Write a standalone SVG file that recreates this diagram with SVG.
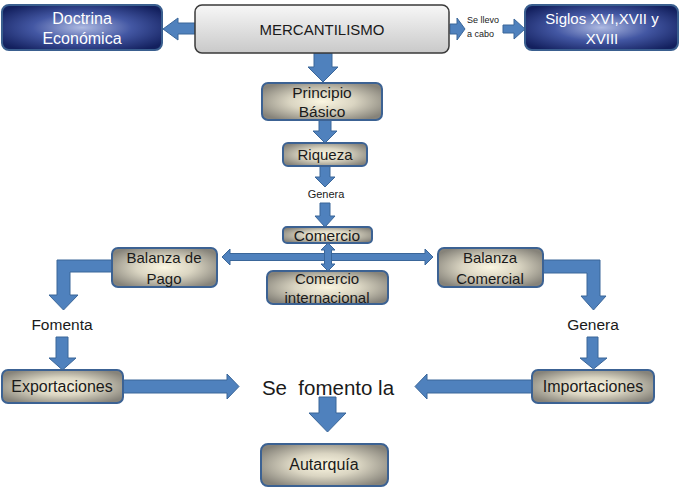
<svg xmlns="http://www.w3.org/2000/svg" width="680" height="488" viewBox="0 0 680 488">
<defs>
<radialGradient id="tan" cx="0.5" cy="0.5" r="0.6">
<stop offset="0" stop-color="#FBF6E1"/>
<stop offset="0.45" stop-color="#DAD5C2"/>
<stop offset="1" stop-color="#86837A"/>
</radialGradient>
<radialGradient id="navy" cx="0.5" cy="0.5" r="0.62">
<stop offset="0" stop-color="#AEBAE2"/>
<stop offset="0.5" stop-color="#4357A3"/>
<stop offset="1" stop-color="#13205E"/>
</radialGradient>
<linearGradient id="gray" x1="0" y1="0" x2="0" y2="1">
<stop offset="0" stop-color="#F7F7F7"/>
<stop offset="1" stop-color="#C9C9C9"/>
</linearGradient>
<style>
text{font-family:"Liberation Sans",Arial,sans-serif;text-anchor:middle;fill:#1a1a1a}
.tan{fill:url(#tan);stroke:#3C6293;stroke-width:2}
.navy{fill:url(#navy);stroke:#3A5F8F;stroke-width:2}
.gray{fill:url(#gray);stroke:#3a3a3a;stroke-width:1.5}
.arr{fill:#4F81BD;stroke:#3A6699;stroke-width:1}
.w{fill:#ffffff}
</style>
</defs>
<g id="connectors">
<path class="arr" d="M195,23 H178 V18 L163,29 L178,40 V34 H195 Z"/>
<path class="arr" d="M450,24 H457 V18 L465,29 L457,40 V34 H450 Z"/>
<path class="arr" d="M503,25 H514 V19 L525,29 L514,39 V33 H503 Z"/>
<path class="arr" d="M314,53 V67 H308 L323,82 L338,67 H332 V53 Z"/>
<path class="arr" d="M319,120 V131 H313 L325,143 L337,131 H331 V120 Z"/>
<path class="arr" d="M320,166 V177 H315 L325,187 L335,177 H330 V166 Z"/>
<path class="arr" d="M320,203 V216 H315 L325,227 L335,216 H330 V203 Z"/>
<path class="arr" d="M222,257 L230,249 V253.5 H425 V249 L433,257 L425,265 V260.5 H230 V265 Z"/>
<path class="arr" d="M328,243 L335,250 H331.5 V264 H335 L328,271 L321,264 H324.5 V250 H321 Z"/>
<path class="arr" d="M112,260 H57 V295 H49 L63.5,310 L78,295 H70 V272 H112 Z"/>
<path class="arr" d="M543,260 H600 V296 H606 L593.5,310 L581,296 H587 V273 H543 Z"/>
<path class="arr" d="M56,337 V358 H49 L62.5,370 L76,358 H68 V337 Z"/>
<path class="arr" d="M123,380 H227 V374 L239,386.5 L227,399 V393 H123 Z"/>
<path class="arr" d="M587,337 V358 H580 L593.5,369 L607,358 H598 V337 Z"/>
<path class="arr" d="M532,380 H427 V374 L415,386.5 L427,399 V393 H532 Z"/>
<path class="arr" d="M319,397 V413 H309 L327.5,432 L346,413 H336 V397 Z"/>
</g>
<g id="doctrina">
<rect class="navy" x="2" y="5" width="160" height="45" rx="7"/>
<text class="w" x="82" y="24" font-size="16">Doctrina</text>
<text class="w" x="82" y="44" font-size="16">Económica</text>
</g>
<g id="mercantilismo">
<rect class="gray" x="195" y="5" width="254" height="48" rx="7"/>
<text x="322" y="35" font-size="15">MERCANTILISMO</text>
</g>
<g id="se-llevo">
<text x="467" y="23" font-size="9" style="text-anchor:start">Se llevo</text>
<text x="467" y="37" font-size="9" style="text-anchor:start">a cabo</text>
</g>
<g id="siglos">
<rect class="navy" x="525" y="5" width="153" height="45" rx="7"/>
<text class="w" x="602" y="24" font-size="15">Siglos XVI,XVII y</text>
<text class="w" x="602" y="44" font-size="15">XVIII</text>
</g>
<g id="principio">
<rect class="tan" x="262" y="83" width="120" height="37" rx="6"/>
<text x="322" y="98" font-size="15.5">Principio</text>
<text x="322" y="117" font-size="15.5">Básico</text>
</g>
<g id="riqueza">
<rect class="tan" x="283" y="143" width="84" height="23" rx="5"/>
<text x="325" y="160" font-size="15">Riqueza</text>
</g>
<g id="genera-mid">
<text x="326" y="198" font-size="11">Genera</text>
</g>
<g id="comercio">
<rect class="tan" x="283" y="227" width="89" height="16" rx="4"/>
<text x="327" y="241" font-size="15.5">Comercio</text>
</g>
<g id="comercio-internacional">
<rect class="tan" x="267" y="271" width="121" height="33" rx="6"/>
<text x="327" y="284" font-size="15">Comercio</text>
<text x="327" y="303" font-size="15">internacional</text>
</g>
<g id="balanza-pago">
<rect class="tan" x="112" y="248" width="105" height="39" rx="6"/>
<text x="164" y="263" font-size="15">Balanza de</text>
<text x="164" y="284" font-size="15">Pago</text>
</g>
<g id="balanza-comercial">
<rect class="tan" x="438" y="248" width="105" height="39" rx="6"/>
<text x="490" y="263" font-size="15">Balanza</text>
<text x="490" y="284" font-size="15">Comercial</text>
</g>
<g id="fomenta">
<text x="62" y="330" font-size="15.5">Fomenta</text>
</g>
<g id="genera-right">
<text x="593" y="330" font-size="15.5">Genera</text>
</g>
<g id="exportaciones">
<rect class="tan" x="2" y="370" width="121" height="33" rx="6"/>
<text x="62" y="392" font-size="16">Exportaciones</text>
</g>
<g id="importaciones">
<rect class="tan" x="532" y="370" width="122" height="33" rx="6"/>
<text x="593" y="392" font-size="16">Importaciones</text>
</g>
<g id="se-fomento">
<text x="328" y="395" font-size="20.5" xml:space="preserve">Se  fomento la</text>
</g>
<g id="autarquia">
<rect class="tan" x="261" y="444" width="127" height="42" rx="7"/>
<text x="324" y="470" font-size="16">Autarquía</text>
</g>
</svg>
